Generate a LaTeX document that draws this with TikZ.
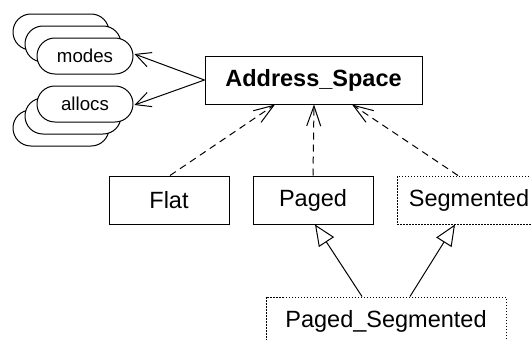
\documentclass[tikz,border=0pt]{standalone}
\usepackage{fontspec}
\setmainfont{Liberation Sans}
\usetikzlibrary{arrows.meta,calc}
\begin{document}
\begin{tikzpicture}[x=1pt,y=-1pt,
  line width=1pt,
  cls/.style={draw, fill=white, rectangle, minimum height=48pt, inner sep=0pt,
    font=\fontsize{23.5}{28}\selectfont},
  dotbox/.style={cls, dash pattern=on 1.5pt off 1.5pt},
  stackbox/.style={draw, fill=white, rectangle, rounded corners=17.9pt,
    minimum width=96pt, minimum height=36pt, inner sep=0pt,
    font=\fontsize{18.7}{22}\selectfont},
  assoc/.style={-{Straight Barb[length=15pt,width=15pt,line width=1pt]}},
  dep/.style={dash pattern=on 7pt off 5pt,
    -{Straight Barb[length=20pt,width=14pt,line width=1pt]}},
  inh/.style={-{Triangle[open,fill=white,length=21pt,width=18pt,line width=1pt]}}
]
\useasboundingbox (0,0) rectangle (531,340);
\clip (0,0) rectangle (531,340);

% stacks
\node[stackbox] (modes3) at (61,32) {};
\node[stackbox] (modes2) at (73,44) {};
\node[stackbox] (modes) at (85,56) {modes};
\node[stackbox] (allocs3) at (61,128) {};
\node[stackbox] (allocs2) at (73,116) {};
\node[stackbox] (allocs) at (85,104) {allocs};

% classes
\node[cls, minimum width=217pt, font=\fontsize{23.5}{28}\selectfont\bfseries] (as) at (313.5,80) {Address\_Space};
\node[cls, minimum width=120pt] (flat) at (169,200) {Flat};
\node[cls, minimum width=120pt] (paged) at (313,200) {Paged};
\node[dotbox, minimum width=144pt] (seg) at (469,200) {Segmented};
\node[dotbox, minimum width=240pt] (ps) at (386,321) {Paged\_Segmented};

% associations
\draw[assoc] (as.west) -- ([xshift=1pt,yshift=2pt]modes.east);
\draw[assoc] (as.west) -- ([xshift=1pt,yshift=-1pt]allocs.east);

% dependencies
\draw[dep] ([xshift=1pt]flat.north) -- ([xshift=-38.5pt]as.south);
\draw[dep] (paged.north) -- ([xshift=0.5pt]as.south);
\draw[dep] ([xshift=-11pt]seg.north) -- ([xshift=38.5pt]as.south);

% inheritance
\draw[inh] ([xshift=-24pt]ps.north) -- ([xshift=2pt]paged.south);
\draw[inh] ([xshift=24pt]ps.north) -- ([xshift=-14pt]seg.south);
\end{tikzpicture}
\end{document}
